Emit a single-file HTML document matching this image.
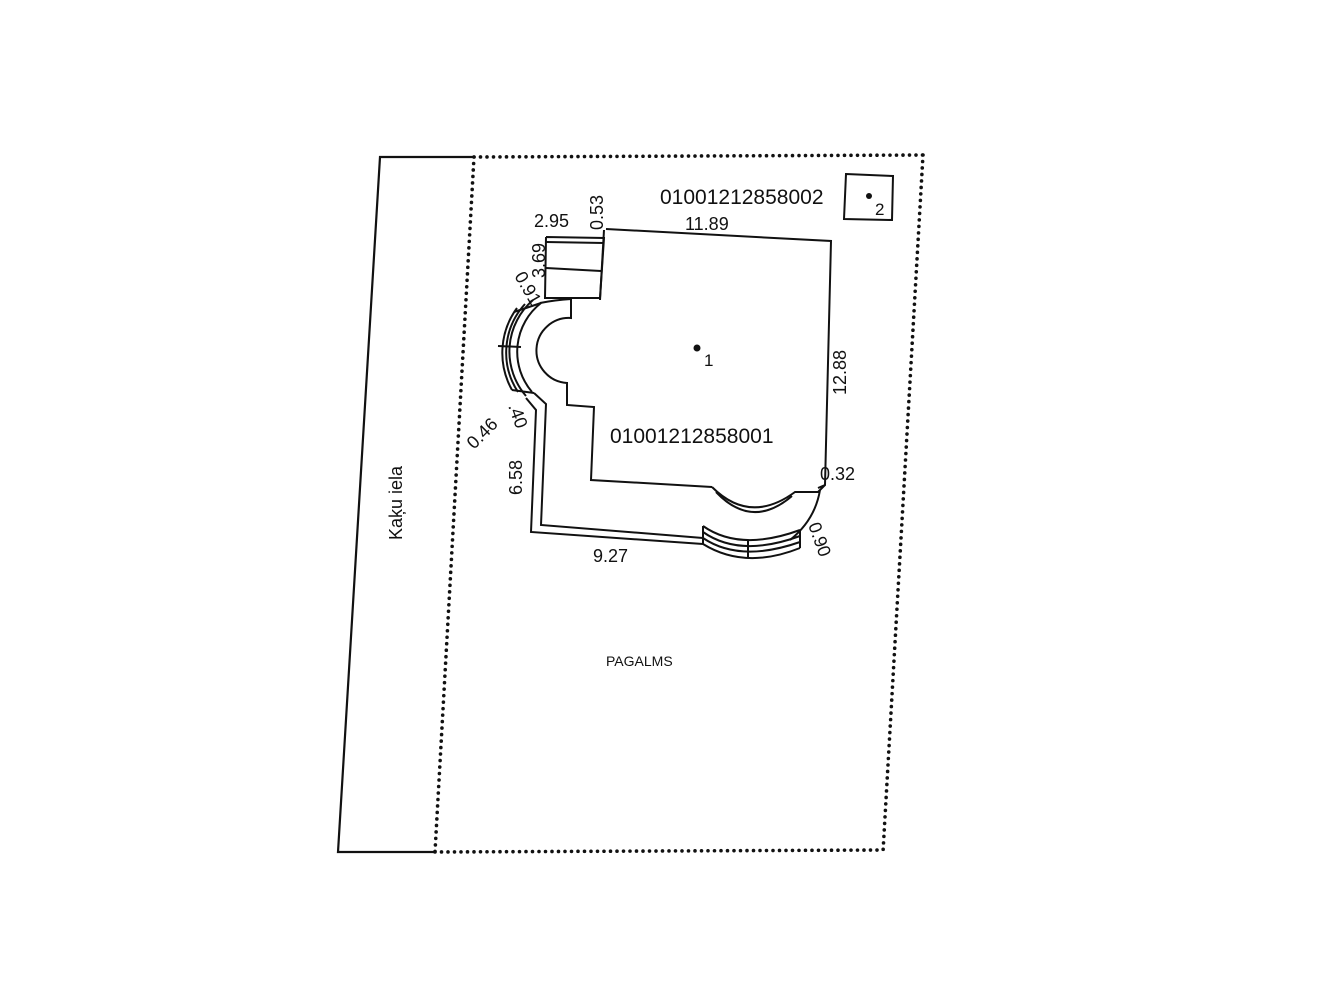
<!DOCTYPE html>
<html><head><meta charset="utf-8"><style>
html,body{margin:0;padding:0;background:#fff}
svg{display:block}
text{font-family:"Liberation Sans",sans-serif;fill:#111}
</style></head><body>
<svg width="1327" height="997" viewBox="0 0 1327 997" xmlns="http://www.w3.org/2000/svg">
<g fill="none" stroke="#111">
<path d="M474 157 L380 157 L338 852 L435 852" stroke-width="2.2"/>
<g stroke-width="3.6" stroke-dasharray="0 6.5" stroke-linecap="round">
<path d="M474 157 L923 155"/>
<path d="M474 157 L435 852"/>
<path d="M923 155 L883 852"/>
<path d="M435 852 L883 850"/>
</g>
<path d="M846 174 L893 176 L892 220 L844 219 Z" stroke-width="2"/>
<g stroke-width="2">
<path d="M606 229 L831 241 L825 485 L818 488"/>
<path d="M546 237 L604 238 L600 298 L545 298 L546 237"/>
<path d="M546 242 L604 243"/>
<path d="M546 268 L601 271"/>
<path d="M604 230 L600 300"/>
<path d="M540 303 Q555 300 571 299 L571 318 A32 32 0 0 0 567 383 L567 405 L594 407 L591 480 L712 487"/>
<path d="M712 487 Q750 525 795 492 L818 492 L825 485"/>
<path d="M716 492 Q752 530 792 496"/>
<path d="M541 303 A62 62 0 0 0 532 392"/>
<path d="M533 300 A68 68 0 0 0 526 396"/>
<path d="M525 304 A72 72 0 0 0 518 392"/>
<path d="M517 308 A76 76 0 0 0 512 390"/>
<path d="M514 312 L541 303 M512 390 L534 393"/>
<path d="M498 346 L521 347"/>
<path d="M534 393 L546 404 L541 525 L703 538"/>
<path d="M526 398 L536 410 L531 532 L703 544"/>
<path d="M703 526 Q740 552 800 530"/>
<path d="M703 532 Q740 558 800 536"/>
<path d="M703 538 Q740 563 800 542"/>
<path d="M703 544 Q745 570 800 548"/>
<path d="M703 526 L703 544 M800 530 L800 548"/>
<path d="M748 540 L748 557"/>
<path d="M790 540 Q815 520 820 490"/>
</g>
</g>
<g fill="#111">
<circle cx="697" cy="348" r="3.5"/>
<circle cx="869" cy="196" r="3"/>
</g>
<text x="704" y="366" font-size="17">1</text>
<text x="875" y="215" font-size="17">2</text>
<text x="660" y="204" font-size="21">01001212858002</text>
<text x="610" y="443" font-size="21">01001212858001</text>
<text x="534" y="227" font-size="18">2.95</text>
<text x="685" y="230" font-size="18">11.89</text>
<text x="593" y="562" font-size="18">9.27</text>
<text x="820" y="480" font-size="18">0.32</text>
<text x="606" y="666" font-size="14">PAGALMS</text>
<text transform="translate(603,230) rotate(-90)" font-size="18">0.53</text>
<text transform="translate(545,278) rotate(-90)" font-size="18">3.69</text>
<text transform="translate(846,395) rotate(-90)" font-size="18">12.88</text>
<text transform="translate(522,495) rotate(-90)" font-size="18">6.58</text>
<text transform="translate(402,540) rotate(-90)" font-size="18">Kaķu iela</text>
<text transform="translate(514,276) rotate(60)" font-size="18">0.91</text>
<text transform="translate(474,450) rotate(-45)" font-size="18">0.46</text>
<text transform="translate(508,406) rotate(70)" font-size="18">.40</text>
<text transform="translate(808,525) rotate(70)" font-size="18">0.90</text>
</svg>
</body></html>
